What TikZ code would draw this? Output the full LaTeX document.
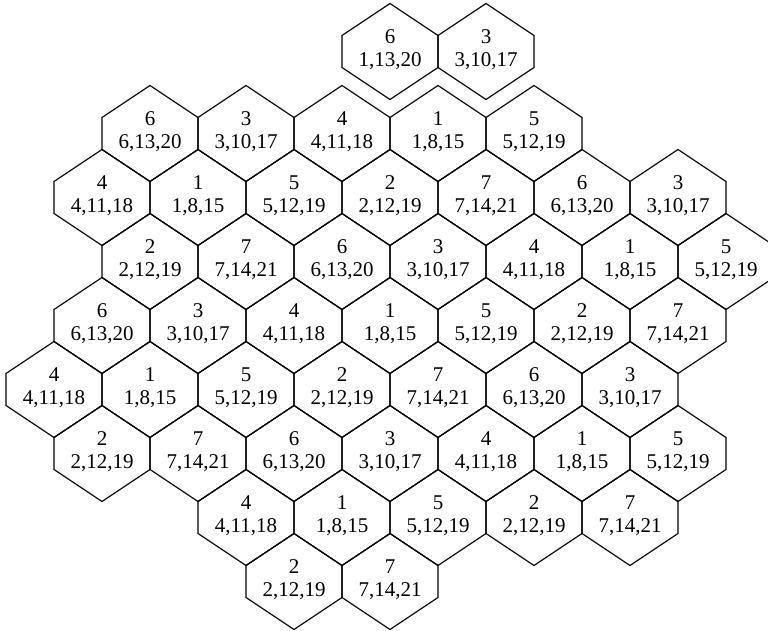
\documentclass[tikz,border=0pt]{standalone}
\usepackage{fontspec}
\setmainfont{Liberation Serif}
\tikzset{
  hexline/.style={line width=1.2pt, line join=miter},
  hexlabel/.style={align=center, font=\fontsize{21}{23.5}\selectfont, inner sep=0pt}
}
\begin{document}
\begin{tikzpicture}[x=1pt,y=-1pt]
\useasboundingbox (0,0) rectangle (768,631);
\begin{scope}
\clip (0,0) rectangle (768,631);
\foreach \x/\y/\a/\b [count=\i] in {
  390/51.5/6/{1,13,20}, 486/51.5/3/{3,10,17},
  150/133.5/6/{6,13,20}, 246/133.5/3/{3,10,17}, 342/133.5/4/{4,11,18}, 438/133.5/1/{1,8,15}, 534/133.5/5/{5,12,19},
  102/197.5/4/{4,11,18}, 198/197.5/1/{1,8,15}, 294/197.5/5/{5,12,19}, 390/197.5/2/{2,12,19}, 486/197.5/7/{7,14,21}, 582/197.5/6/{6,13,20}, 678/197.5/3/{3,10,17},
  150/261.5/2/{2,12,19}, 246/261.5/7/{7,14,21}, 342/261.5/6/{6,13,20}, 438/261.5/3/{3,10,17}, 534/261.5/4/{4,11,18}, 630/261.5/1/{1,8,15}, 726/261.5/5/{5,12,19},
  102/325.5/6/{6,13,20}, 198/325.5/3/{3,10,17}, 294/325.5/4/{4,11,18}, 390/325.5/1/{1,8,15}, 486/325.5/5/{5,12,19}, 582/325.5/2/{2,12,19}, 678/325.5/7/{7,14,21},
  54/389.5/4/{4,11,18}, 150/389.5/1/{1,8,15}, 246/389.5/5/{5,12,19}, 342/389.5/2/{2,12,19}, 438/389.5/7/{7,14,21}, 534/389.5/6/{6,13,20}, 630/389.5/3/{3,10,17},
  102/453.5/2/{2,12,19}, 198/453.5/7/{7,14,21}, 294/453.5/6/{6,13,20}, 390/453.5/3/{3,10,17}, 486/453.5/4/{4,11,18}, 582/453.5/1/{1,8,15}, 678/453.5/5/{5,12,19},
  246/517.5/4/{4,11,18}, 342/517.5/1/{1,8,15}, 438/517.5/5/{5,12,19}, 534/517.5/2/{2,12,19}, 630/517.5/7/{7,14,21},
  294/581.5/2/{2,12,19}, 390/581.5/7/{7,14,21}
}{
  \draw[hexline] (\x-48,\y-16) -- (\x,\y-48) -- (\x+48,\y-16) -- (\x+48,\y+16) -- (\x,\y+48) -- (\x-48,\y+16) -- cycle;
  \node[hexlabel] (h\i) at (\x,\y-2) {\a\\\b};
}
\end{scope}
\end{tikzpicture}
\end{document}
